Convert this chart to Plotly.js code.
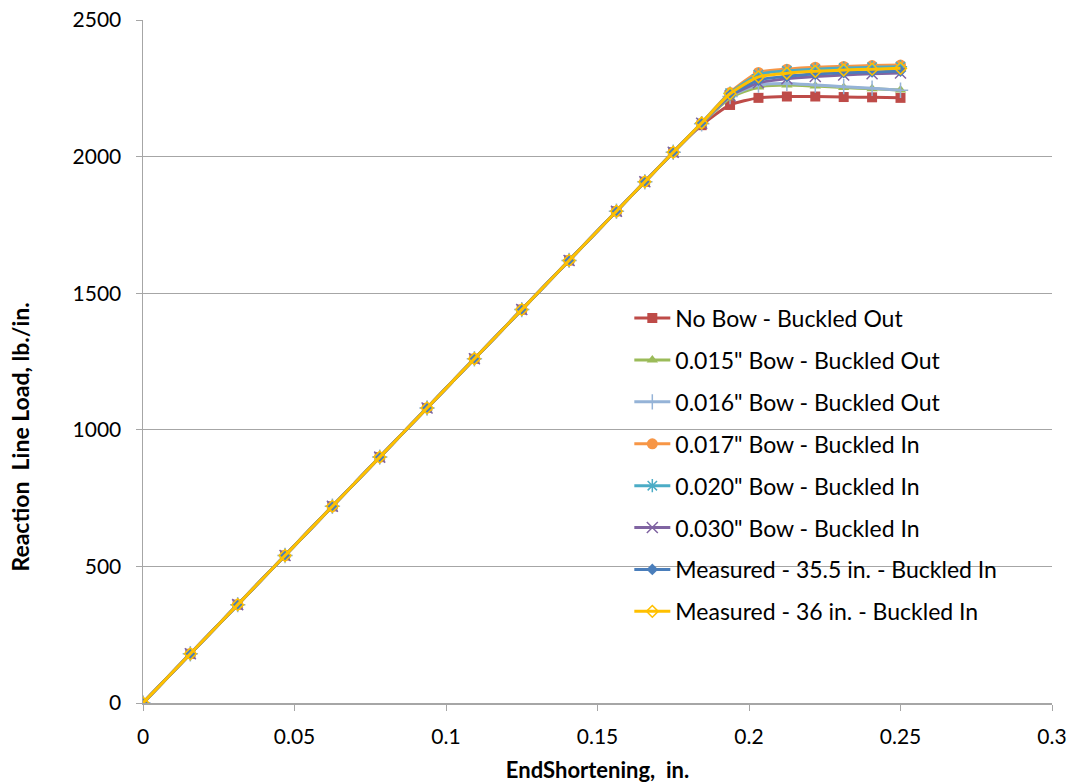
<!DOCTYPE html>
<html>
<head>
<meta charset="utf-8">
<script src="https://cdn.plot.ly/plotly-3.0.1.min.js"></script>
<style>html,body{margin:0;padding:0;background:#fff;}#chart{width:1072px;height:783px;}</style>
</head>
<body>
<div id="chart"></div>
<script>
const endShortening = [0, 0.015625, 0.03125, 0.046875, 0.0625, 0.078125, 0.09375, 0.109375, 0.125, 0.140625, 0.15625,
  0.165625, 0.175, 0.184375, 0.19375, 0.203125, 0.2125, 0.221875, 0.23125, 0.240625, 0.25];

const seriesNames = [
  'No Bow - Buckled Out',
  '0.015" Bow - Buckled Out',
  '0.016" Bow - Buckled Out',
  '0.017" Bow - Buckled In',
  '0.020" Bow - Buckled In',
  '0.030" Bow - Buckled In',
  'Measured - 35.5 in. - Buckled In',
  'Measured - 36 in. - Buckled In'
];

const xTitle = 'EndShortening,  in.';
const yTitle = 'Reaction  Line Load, lb./in.';

const noBow      = [0,180,360,540,720,900,1080,1260,1440,1620,1800,1908,2016,2115,2189,2215,2220,2220,2218,2217,2215];
const bow015     = [0,180,360,540,720,900,1080,1260,1440,1620,1800,1908,2016,2120,2215,2255,2262,2258,2253,2248,2244];
const bow016     = [0,180,360,540,720,900,1080,1260,1440,1620,1800,1908,2016,2120,2220,2262,2268,2262,2256,2250,2243];
const bow017     = [0,180,360,540,720,900,1080,1260,1440,1620,1800,1908,2016,2123,2235,2308,2320,2327,2330,2333,2335];
const bow020     = [0,180,360,540,720,900,1080,1260,1440,1620,1800,1908,2016,2123,2232,2300,2314,2320,2324,2327,2329];
const bow030     = [0,180,360,540,720,900,1080,1260,1440,1620,1800,1908,2016,2122,2222,2270,2285,2293,2299,2303,2306];
const meas355    = [0,180,360,540,720,900,1080,1260,1440,1620,1800,1908,2016,2122,2225,2280,2294,2302,2307,2310,2313];
const meas36     = [0,180,360,540,720,900,1080,1260,1440,1620,1800,1908,2016,2123,2230,2292,2305,2312,2317,2320,2323];

const seriesValues = [noBow, bow015, bow016, bow017, bow020, bow030, meas355, meas36];
const colors = ['#BE4B48','#9BBB59','#95B3D7','#F79646','#4BACC6','#8064A2','#4A7EBB','#FFC000'];
const symbols = ['square','triangle-up','cross-thin','circle','asterisk','x-thin','diamond','diamond-open'];
const sizes = [10,10,11,11,11,11,9,9];

const traces = seriesValues.map((v, i) => {
  const thin = ['cross-thin','asterisk','x-thin','diamond-open'].includes(symbols[i]);
  return {
    x: endShortening, y: v, name: seriesNames[i], type: 'scatter', mode: 'lines+markers',
    legendgroup: 'g' + i,
    line: {color: colors[i], width: 3, shape: 'spline', smoothing: 0.6},
    marker: {symbol: symbols[i], size: sizes[i], color: colors[i],
             line: thin ? {color: colors[i], width: 1.5} : {width: 0}}
  };
});

const font = 'Lato, "Open Sans", sans-serif';
const layout = {
  width: 1072, height: 783,
  margin: {l: 143, r: 20, t: 20, b: 80},
  paper_bgcolor: '#fff', plot_bgcolor: '#fff',
  font: {family: font, size: 21, color: '#000'},
  showlegend: true,
  legend: {x: 0.535, y: 0.595, xanchor: 'left', yanchor: 'top', bgcolor: 'rgba(0,0,0,0)',
           font: {family: font, size: 23, color: '#000'}, tracegroupgap: 9, itemwidth: 36},
  xaxis: {range: [0, 0.3], dtick: 0.05, tick0: 0, showgrid: false, zeroline: false,
          showline: true, linecolor: '#A6A6A6', linewidth: 1.5,
          ticks: 'outside', ticklen: 6, tickcolor: '#A6A6A6', ticklabelstandoff: 8,
          tickfont: {family: font, size: 21, color: '#000'},
          title: {text: xTitle, font: {family: font, size: 22, color: '#000', weight: 'bold'}, standoff: 20}},
  yaxis: {range: [0, 2500], dtick: 500, showgrid: true, gridcolor: '#A6A6A6', gridwidth: 1,
          zeroline: false, showline: true, linecolor: '#A6A6A6', linewidth: 1.5,
          ticks: 'outside', ticklen: 6, tickcolor: '#A6A6A6', ticklabelstandoff: 10,
          tickfont: {family: font, size: 21, color: '#000'}},
  annotations: [{text: yTitle, xref: 'paper', yref: 'paper', x: -0.135, y: 0.389,
                 xanchor: 'center', yanchor: 'middle', textangle: -90, showarrow: false,
                 font: {family: font, size: 23, color: '#000', weight: 'bold'}}]
};

Plotly.newPlot('chart', traces, layout, {displayModeBar: false, staticPlot: true});
</script>
</body>
</html>
